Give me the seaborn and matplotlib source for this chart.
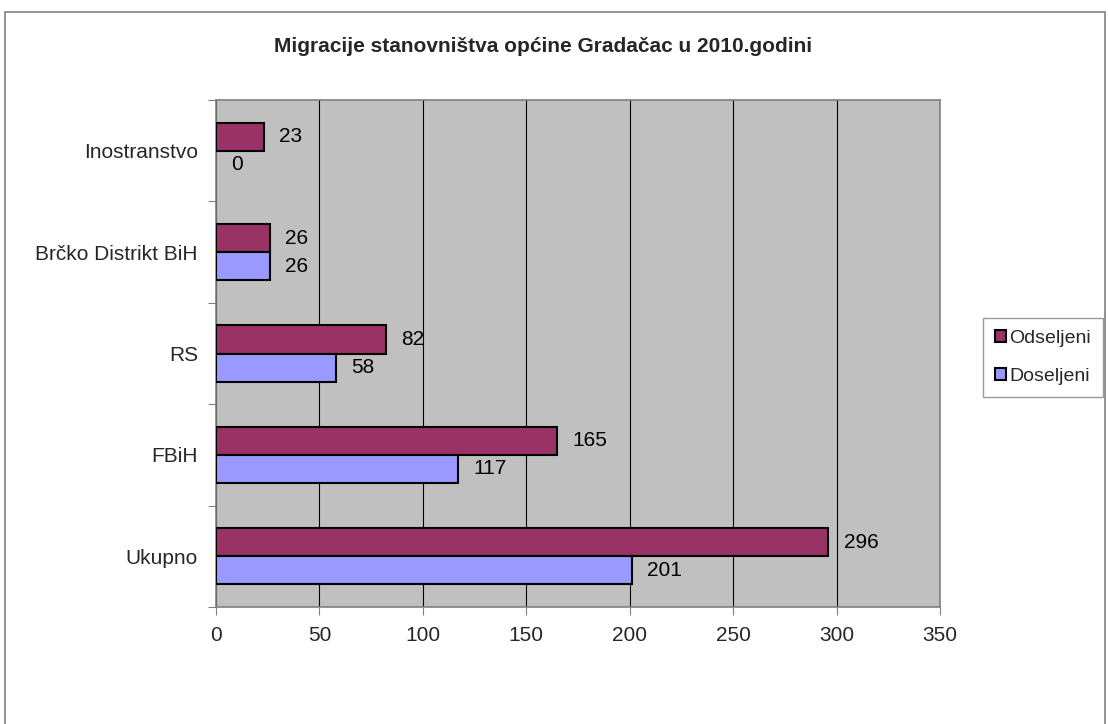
import matplotlib
matplotlib.use("Agg")
import matplotlib.pyplot as plt
import seaborn as sns
import pandas as pd
import numpy as np
from matplotlib.patches import Rectangle, Patch

categories = ["Inostranstvo", "Brčko Distrikt BiH", "RS", "FBiH", "Ukupno"]
odseljeni = [23, 26, 82, 165, 296]
doseljeni = [0, 26, 58, 117, 201]
series = ["Odseljeni", "Doseljeni"]
colors = ["#993366", "#9999FF"]
xticks = [0, 50, 100, 150, 200, 250, 300, 350]
title = "Migracije stanovništva općine Gradačac u 2010.godini"

df = pd.DataFrame({
    "Kategorija": categories * 2,
    "Broj": odseljeni + doseljeni,
    "Serija": [series[0]] * len(categories) + [series[1]] * len(categories),
})

sns.set_style("white")
plt.rcParams["font.family"] = ["Liberation Sans", "DejaVu Sans"]

W, H = 1108, 724
fig = plt.figure(figsize=(W / 100, H / 100), dpi=100)
ax = fig.add_axes([216 / W, 1 - 607 / H, (940 - 216) / W, (607 - 100) / H])
ax.set_facecolor("#C0C0C0")

sns.barplot(data=df, y="Kategorija", x="Broj", hue="Serija", order=categories,
            hue_order=series, palette=colors, saturation=1, orient="h", width=0.555,
            edgecolor="black", linewidth=1.5, ax=ax, legend=False, zorder=3)

for cont in ax.containers:
    for p in cont:
        if p.get_width() == 0:
            p.set_linewidth(0)
    ax.bar_label(cont, labels=[f"{int(v.get_width())}" for v in cont],
                 padding=11, fontsize=15, color="black")

ax.set_xlim(0, 350)
ax.set_xticks(xticks)
ax.set_xticklabels([str(t) for t in xticks], fontsize=15)
ax.set_ylim(len(categories) - 0.5, -0.5)
ax.xaxis.grid(True, color="black", linewidth=0.8, zorder=0)
ax.set_axisbelow(True)
ax.set_xlabel("")
ax.set_ylabel("")
ax.tick_params(axis="x", length=6, width=0.8, color="#808080", direction="out", pad=8, bottom=True)
ax.tick_params(axis="y", which="major", length=0, pad=13, labelsize=15)
ax.set_yticks(np.arange(-0.5, len(categories), 1), minor=True)
ax.tick_params(axis="y", which="minor", length=6, width=0.8, color="#808080", direction="out", left=True)

for s in ["top", "right", "left", "bottom"]:
    ax.spines[s].set_color("#808080")
    ax.spines[s].set_linewidth(1.2)

fig.text(543 / W, 1 - 46 / H, title, ha="center", va="center",
         fontsize=15, fontweight="bold")

# outer chart border
fig.patches.append(Rectangle((5 / W, -0.05), (1105 - 5) / W, 1 - 12 / H + 0.05,
                             transform=fig.transFigure, fill=False,
                             edgecolor="#808080", linewidth=1.2))

handles = [Patch(facecolor=c, edgecolor="black", linewidth=1.5, label=s)
           for c, s in zip(colors, series)]
leg = fig.legend(handles=handles, loc="upper left",
                 bbox_to_anchor=(983 / W, 1 - 318 / H), fontsize=14,
                 frameon=True, fancybox=False, handlelength=0.6, handleheight=0.6,
                 handletextpad=0.15, labelspacing=1.1, borderpad=0.6,
                 borderaxespad=0)
leg.get_frame().set_edgecolor("#808080")
leg.get_frame().set_linewidth(1.0)

fig.savefig("out.png", dpi=100)
